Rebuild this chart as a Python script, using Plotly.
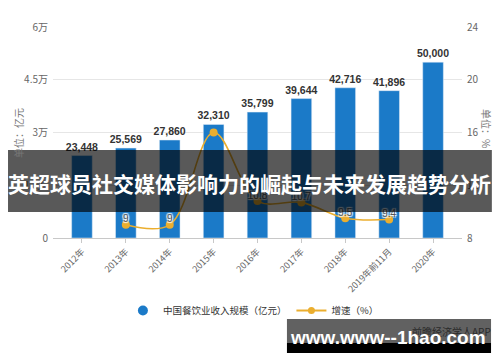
import plotly.graph_objects as go

categories = ["2012年", "2013年", "2014年", "2015年", "2016年", "2017年", "2018年", "2019年前11月", "2020年"]
revenue = [23448, 25569, 27860, 32310, 35799, 39644, 42716, 41896, 50000]
growth = [None, 9.0, 9.0, 16.0, 10.8, 10.7, 9.5, 9.4, None]
growth_labels = ["", "9", "9", "", "10.8", "10.7", "9.5", "9.4", ""]
left_ticks = [0, 15000, 30000, 45000, 60000]
left_tick_text = ["0", "1.5万", "3万", "4.5万", "6万"]
right_ticks = [8, 12, 16, 20, 24]

CJK = "Noto Sans CJK SC, Noto Sans, sans-serif"
BAR = "#1B7AC8"
GOLD = "#EBAE2E"
HALO = "1px 1px 1px #fff, -1px -1px 1px #fff, 1px -1px 1px #fff, -1px 1px 1px #fff"

fig = go.Figure()
fig.add_trace(go.Bar(
    x=categories, y=revenue, marker_color=BAR, width=0.47,
    text=[f"{v:,}" for v in revenue], textposition="outside", constraintext="none",
    textfont=dict(family="Liberation Sans, Arial", size=10.5, color="#333"),
    texttemplate="<b>%{text}</b>",
    cliponaxis=False, showlegend=False, yaxis="y",
))
fig.add_trace(go.Scatter(
    x=categories, y=growth, yaxis="y2", mode="lines+markers",
    line=dict(color=GOLD, width=1.6, shape="spline", smoothing=1.0),
    marker=dict(color=GOLD, size=8),
    connectgaps=False, showlegend=False, cliponaxis=False,
))
fig.add_trace(go.Scatter(
    x=categories, y=growth, yaxis="y2", mode="text",
    text=growth_labels, textposition="top center",
    textfont=dict(family="Liberation Sans, Arial", size=10, color="#555", shadow=HALO),
    showlegend=False, cliponaxis=False, hoverinfo="skip",
))
# legend proxies
fig.add_trace(go.Scatter(x=[None], y=[None], mode="markers",
                         marker=dict(color=BAR, size=10, symbol="circle"),
                         name="中国餐饮业收入规模（亿元）"))
fig.add_trace(go.Scatter(x=[None], y=[None], mode="lines+markers",
                         line=dict(color=GOLD, width=2), marker=dict(color=GOLD, size=7),
                         name="增速（%）", yaxis="y2"))

fig.update_layout(
    width=500, height=362,
    margin=dict(l=53, r=38, t=27, b=124, autoexpand=False),
    paper_bgcolor="white", plot_bgcolor="white",
    font=dict(family=CJK, size=10, color="#555"),
    xaxis=dict(
        type="category", range=[-0.66, 8.66], tickangle=-45, automargin=False,
        tickfont=dict(family=CJK, size=9, color="#666"),
        showline=True, linecolor="#c8c8c8", linewidth=1,
        ticks="outside", ticklen=4, tickcolor="#c8c8c8",
        showgrid=False,
    ),
    yaxis=dict(
        range=[0, 60000], tickvals=left_ticks, ticktext=left_tick_text, automargin=False,
        tickfont=dict(family=CJK, size=10, color="#666"),
        gridcolor="#e6e6e6", gridwidth=1, zeroline=False, showline=False,
        ticks="", ticklabelstandoff=4,
    ),
    yaxis2=dict(
        range=[8, 24], tickvals=right_ticks, overlaying="y", side="right", automargin=False,
        tickfont=dict(family=CJK, size=10, color="#666"),
        showgrid=False, zeroline=False, showline=False,
        ticks="", ticklabelstandoff=4,
    ),
    legend=dict(orientation="h", x=0.49, xanchor="center", y=-0.275, yanchor="top",
                bgcolor="rgba(0,0,0,0)",
                font=dict(family=CJK, size=9.5, color="#333"), itemwidth=30),
    bargap=0.5,
)


def note(text, px, py, **kw):
    fig.add_annotation(text=text, xref="paper", yref="paper",
                       x=(px - 53) / 409, y=(238 - py) / 211,
                       xanchor="center", yanchor="middle", showarrow=False, **kw)


note("单位：亿元", 18, 133, textangle=-90, font=dict(family=CJK, size=10, color="#777"))
note("单位：%", 487, 129, textangle=90, font=dict(family=CJK, size=10, color="#777"))
note("前瞻经济学人APP", 451, 331, font=dict(family=CJK, size=10, color="#2a2a2a"))

# overlay banners
fig.add_shape(type="rect", xref="paper", yref="paper", x0=-0.110, x1=1.073, y0=0.123, y1=0.417,
              fillcolor="rgba(0,0,0,0.65)", line_width=0, layer="above")
fig.add_shape(type="rect", xref="paper", yref="paper", x0=0.572, x1=1.071, y0=-0.498, y1=-0.384,
              fillcolor="rgba(0,0,0,0.62)", line_width=0, layer="above")
fig.add_shape(type="rect", xref="paper", yref="paper", x0=0.572, x1=1.071, y0=-0.545, y1=-0.498,
              fillcolor="black", line_width=0, layer="above")

note("<b>英超球员社交媒体影响力的崛起与未来发展趋势分析</b>", 249, 183,
     font=dict(family=CJK, size=21, color="white"))
note("<b>www.www--1hao.com</b>", 388, 337,
     font=dict(family="Liberation Sans, Arial", size=19, color="white"))

fig.write_html("out.html", post_script="document.body.style.margin='0';",
               config={"displayModeBar": False})
